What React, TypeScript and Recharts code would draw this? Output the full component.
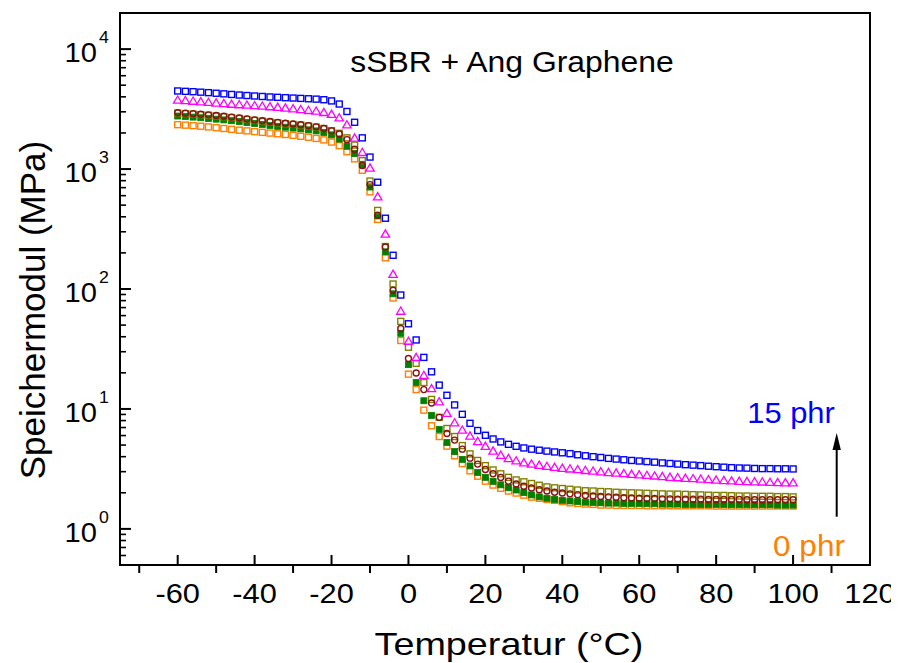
import React from 'react';
import { ScatterChart, Scatter, XAxis, YAxis, ReferenceArea } from 'recharts';

// Temperature grid (°C)
const temperatures = [
  -60, -58, -56, -54, -52, -50, -48, -46, -44, -42,
  -40, -38, -36, -34, -32, -30, -28, -26, -24, -22,
  -20, -18, -16, -14, -12, -10, -8, -6, -4, -2,
  0, 2, 4, 6, 8, 10, 12, 14, 16, 18,
  20, 22, 24, 26, 28, 30, 32, 34, 36, 38,
  40, 42, 44, 46, 48, 50, 52, 54, 56, 58,
  60, 62, 64, 66, 68, 70, 72, 74, 76, 78,
  80, 82, 84, 86, 88, 90, 92, 94, 96, 98,
  100,
];

// Storage modulus (MPa) per filler content
const phr15 = [
  4477, 4446, 4416, 4375, 4335, 4285, 4236, 4188, 4140, 4102,
  4064, 4027, 3990, 3963, 3936, 3908, 3882, 3855, 3828, 3784,
  3698, 3483, 3020, 2455, 1820, 1259, 776, 389, 191, 89.1,
  51.3, 37.6, 26.9, 20.4, 15.8, 13.0, 10.8, 9.02, 7.59, 6.61,
  6.03, 5.62, 5.31, 5.07, 4.88, 4.73, 4.62, 4.53, 4.45, 4.38,
  4.31, 4.24, 4.15, 4.07, 4.0, 3.94, 3.87, 3.82, 3.77, 3.72,
  3.68, 3.64, 3.6, 3.55, 3.51, 3.47, 3.43, 3.4, 3.37, 3.33,
  3.3, 3.27, 3.24, 3.22, 3.21, 3.19, 3.18, 3.18, 3.17, 3.17,
  3.16,
];
const phr10 = [
  3767, 3733, 3690, 3648, 3606, 3565, 3524, 3483, 3451, 3420,
  3388, 3357, 3319, 3281, 3236, 3192, 3141, 3090, 3048, 2972,
  2871, 2679, 2344, 1820, 1380, 1023, 589, 288, 133, 65.5,
  36.7, 26.9, 19.1, 14.8, 11.5, 9.23, 7.67, 6.68, 5.96, 5.37,
  4.9, 4.47, 4.12, 3.87, 3.7, 3.57, 3.48, 3.4, 3.33, 3.27,
  3.21, 3.17, 3.13, 3.08, 3.04, 3.0, 2.96, 2.93, 2.9, 2.86,
  2.83, 2.8, 2.77, 2.74, 2.7, 2.68, 2.65, 2.63, 2.61, 2.58,
  2.56, 2.54, 2.52, 2.5, 2.49, 2.48, 2.47, 2.45, 2.44, 2.43,
  2.43,
];
const phr7 = [
  2951, 2924, 2897, 2864, 2831, 2793, 2754, 2710, 2667, 2618,
  2570, 2529, 2489, 2449, 2410, 2377, 2344, 2301, 2249, 2178,
  2080, 1959, 1758, 1462, 1072, 741, 412, 224, 97.7, 46.8,
  26.3, 19.95, 14.5, 11.2, 8.51, 6.24, 5.5, 4.62, 3.89, 3.47,
  3.13, 2.88, 2.68, 2.5, 2.37, 2.27, 2.19, 2.12, 2.07, 2.02,
  1.99, 1.96, 1.93, 1.9, 1.88, 1.86, 1.85, 1.84, 1.82, 1.81,
  1.8, 1.79, 1.79, 1.78, 1.78, 1.77, 1.77, 1.77, 1.77, 1.76,
  1.76, 1.76, 1.76, 1.76, 1.75, 1.75, 1.75, 1.75, 1.75, 1.75,
  1.75,
];
const phr5 = [
  2924, 2897, 2871, 2838, 2805, 2767, 2729, 2685, 2642, 2594,
  2547, 2506, 2466, 2427, 2388, 2355, 2323, 2286, 2239, 2178,
  2089, 1986, 1820, 1585, 1175, 794, 452, 226, 110, 53.7,
  32.7, 24.0, 16.6, 12.0, 8.51, 6.87, 5.89, 4.95, 4.22, 3.72,
  3.37, 3.1, 2.88, 2.69, 2.56, 2.47, 2.39, 2.31, 2.24, 2.2,
  2.17, 2.14, 2.11, 2.08, 2.07, 2.05, 2.04, 2.02, 2.01, 2.0,
  1.99, 1.98, 1.97, 1.96, 1.95, 1.95, 1.94, 1.93, 1.92, 1.91,
  1.9, 1.9, 1.89, 1.88, 1.88, 1.87, 1.87, 1.87, 1.86, 1.86,
  1.85,
];
const phr2 = [
  2767, 2742, 2710, 2679, 2642, 2606, 2570, 2529, 2489, 2443,
  2399, 2355, 2312, 2270, 2234, 2198, 2163, 2123, 2080, 2018,
  1928, 1778, 1549, 1349, 1096, 708, 407, 204, 91.2, 42.7,
  23.4, 16.6, 11.7, 8.83, 6.76, 5.25, 4.41, 3.8, 3.35, 2.95,
  2.69, 2.49, 2.33, 2.21, 2.11, 2.01, 1.92, 1.85, 1.8, 1.76,
  1.73, 1.71, 1.69, 1.67, 1.66, 1.65, 1.64, 1.64, 1.63, 1.63,
  1.63, 1.62, 1.62, 1.61, 1.61, 1.61, 1.6, 1.6, 1.6, 1.6,
  1.6, 1.6, 1.59, 1.59, 1.59, 1.59, 1.59, 1.59, 1.58, 1.58,
  1.58,
];
const phr0 = [
  2344, 2323, 2301, 2275, 2244, 2213, 2178, 2143, 2109, 2080,
  2051, 2023, 1995, 1968, 1941, 1910, 1875, 1841, 1799, 1750,
  1679, 1567, 1396, 1216, 977, 646, 380, 182, 84.1, 37.2,
  19.5, 14.5, 9.77, 7.24, 5.89, 4.9, 4.07, 3.5, 3.05, 2.75,
  2.5, 2.32, 2.18, 2.07, 1.99, 1.91, 1.84, 1.8, 1.76, 1.73,
  1.69, 1.65, 1.63, 1.61, 1.6, 1.58, 1.58, 1.57, 1.57, 1.57,
  1.57, 1.56, 1.56, 1.56, 1.56, 1.56, 1.56, 1.56, 1.56, 1.56,
  1.55, 1.55, 1.55, 1.55, 1.55, 1.55, 1.55, 1.55, 1.55, 1.55,
  1.55,
];

// Axis ticks
const xTicks = [-70, -60, -50, -40, -30, -20, -10, 0, 10, 20, 30, 40, 50, 60, 70, 80, 90, 100, 110, 120];
const xLabeledTicks = [-60, -40, -20, 0, 20, 40, 60, 80, 100, 120];
const yTicks = [
  0.5, 0.6, 0.7, 0.8, 0.9,
  1, 2, 3, 4, 5, 6, 7, 8, 9,
  10, 20, 30, 40, 50, 60, 70, 80, 90,
  100, 200, 300, 400, 500, 600, 700, 800, 900,
  1000, 2000, 3000, 4000, 5000, 6000, 7000, 8000, 9000,
  10000,
];
const yMajorTicks = [1, 10, 100, 1000, 10000];
const yExponentLabels = ['0', '1', '2', '3', '4'];

const FONT = '"Liberation Sans", Arial, Helvetica, sans-serif';

const toPoints = (values: number[]) => temperatures.map((t, i) => ({ x: t, y: values[i] }));

const OpenSquare = (color: string) => (p: any) => (
  <rect x={p.cx - 3} y={p.cy - 3} width={6} height={6} fill="none" stroke={color} strokeWidth={1.4} />
);
const FilledSquare = (color: string) => (p: any) => (
  <rect x={p.cx - 3} y={p.cy - 3} width={6} height={6} fill={color} stroke={color} strokeWidth={0.8} />
);
const OpenCircle = (color: string) => (p: any) => (
  <circle cx={p.cx} cy={p.cy} r={3} fill="none" stroke={color} strokeWidth={1.4} />
);
const OpenTriangle = (color: string) => (p: any) => (
  <polygon
    points={`${p.cx},${p.cy - 4} ${p.cx - 4.2},${p.cy + 3.2} ${p.cx + 4.2},${p.cy + 3.2}`}
    fill="none"
    stroke={color}
    strokeWidth={1.3}
  />
);

const series = [
  { name: '0 phr', values: phr0, shape: OpenSquare('#FF7F00') },
  { name: '2 phr', values: phr2, shape: FilledSquare('#008000') },
  { name: '5 phr', values: phr5, shape: OpenSquare('#808000') },
  { name: '7 phr', values: phr7, shape: OpenCircle('#8B1010') },
  { name: '10 phr', values: phr10, shape: OpenTriangle('#FF00FF') },
  { name: '15 phr', values: phr15, shape: OpenSquare('#0000FF') },
];

// Text stretched horizontally to match the reference's wide glyphs
const SText = (props: any) => {
  const { x, y, sx = 1, children, anchor = 'middle', size, color = '#000' } = props;
  return (
    <text
      transform={`translate(${x} ${y}) scale(${sx} 1)`}
      x={0}
      y={0}
      textAnchor={anchor}
      fontSize={size}
      fontFamily={FONT}
      fill={color}
    >
      {children}
    </text>
  );
};

const XTick = (props: any) => {
  const { x, y, payload } = props;
  const v = payload.value;
  const major = xLabeledTicks.includes(v);
  return (
    <g>
      {major ? (
        <line x1={x} x2={x} y1={y} y2={y - 10} stroke="#000" strokeWidth={2} />
      ) : (
        <line x1={x} x2={x} y1={y} y2={y + 8} stroke="#000" strokeWidth={2} />
      )}
      {major && (
        <SText x={x} y={y + 38} sx={1.1} size={28}>
          {String(v)}
        </SText>
      )}
    </g>
  );
};

const YTick = (props: any) => {
  const { x, y, payload } = props;
  const v = payload.value;
  const idx = yMajorTicks.indexOf(v);
  if (idx >= 0) {
    return (
      <g>
        <line x1={x} x2={x + 11} y1={y} y2={y} stroke="#000" strokeWidth={2} />
        <SText x={x - 23} y={y + 13} sx={1.04} size={28} anchor="end">
          10
        </SText>
        <SText x={x - 21} y={y - 6} sx={1.04} size={17} anchor="start">
          {yExponentLabels[idx]}
        </SText>
      </g>
    );
  }
  return <line x1={x} x2={x + 6} y1={y} y2={y} stroke="#000" strokeWidth={1.6} />;
};

export default function App() {
  return (
    <div style={{ position: 'relative', width: 891, height: 655, background: '#fff' }}>
      <ScatterChart width={891} height={655} margin={{ top: 5, right: 29, bottom: 0, left: 0 }}>
        <XAxis
          type="number"
          dataKey="x"
          domain={[-75, 120]}
          ticks={xTicks}
          interval={0}
          allowDataOverflow
          axisLine={false}
          tickLine={false}
          tickSize={0}
          tickMargin={0}
          height={98}
          tick={<XTick />}
        />
        <YAxis
          type="number"
          dataKey="y"
          scale="log"
          domain={[0.5, 20000]}
          ticks={yTicks}
          interval={0}
          allowDataOverflow
          axisLine={false}
          tickLine={false}
          tickSize={0}
          tickMargin={0}
          width={112}
          tick={<YTick />}
        />
        <ReferenceArea
          x1={-75}
          x2={120}
          y1={0.5}
          y2={20000}
          fill="none"
          fillOpacity={0}
          stroke="#000"
          strokeWidth={2}
          ifOverflow="visible"
        />
        {series.map((s) => (
          <Scatter
            key={s.name}
            name={s.name}
            data={toPoints(s.values)}
            shape={s.shape}
            isAnimationActive={false}
          />
        ))}
      </ScatterChart>
      <svg
        width={891}
        height={655}
        style={{ position: 'absolute', left: 0, top: 0, pointerEvents: 'none' }}
      >
        <SText x={504} y={64} sx={1.1} size={29}>
          sSBR + Ang Graphene
        </SText>
        <SText x={783} y={415} sx={1.03} size={30} color="#0000FF">
          15 phr
        </SText>
        <SText x={801} y={548} sx={1.05} size={30} color="#FF7F00">
          0 phr
        </SText>
        <line x1={828.7} x2={828.7} y1={508.7} y2={438} stroke="#000" strokeWidth={2} />
        <polygon points="828.7,425 824.5,442 832.9,442" fill="#000" />
        <SText x={501} y={647} sx={1.18} size={32}>
          Temperatur (°C)
        </SText>
        <text
          transform="translate(37,302) rotate(-90)"
          textAnchor="middle"
          fontSize={35}
          fontFamily={FONT}
          fill="#000"
        >
          Speichermodul (MPa)
        </text>
      </svg>
    </div>
  );
}
